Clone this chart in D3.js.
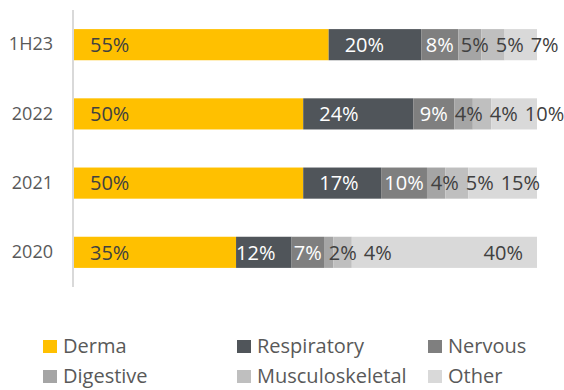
<!DOCTYPE html>
<html>
<head>
<meta charset="utf-8">
<script src="https://cdn.jsdelivr.net/npm/d3@7"></script>
<style>
  body { margin: 0; background: #fff; }
  svg text { font-family: "Open Sans", sans-serif; }
</style>
</head>
<body>
<svg id="chart" width="564" height="390"></svg>
<script>
const periods = ["1H23", "2022", "2021", "2020"];
const series = ["Derma", "Respiratory", "Nervous", "Digestive", "Musculoskeletal", "Other"];
const derma = [55, 50, 50, 35];
const respiratory = [20, 24, 17, 12];
const nervous = [8, 9, 10, 7];
const digestive = [5, 4, 4, 2];
const musculoskeletal = [5, 4, 5, 4];
const other = [7, 10, 15, 40];

const COLORS = ["#FFC000", "#50555A", "#7F7F7F", "#A5A5A5", "#BFBFBF", "#D9D9D9"];
const LABEL_COLORS = ["#404040", "#fff", "#fff", "#404040", "#404040", "#404040"];
// how each series' label sits in its segment
const LABEL_MODE = ["base", "base", "center", "center", "center", "end"];

const rows = periods.map((p, i) => ({
    period: p,
    Derma: derma[i],
    Respiratory: respiratory[i],
    Nervous: nervous[i],
    Digestive: digestive[i],
    Musculoskeletal: musculoskeletal[i],
    Other: other[i]
}));

const stacked = d3.stack().keys(series).offset(d3.stackOffsetExpand)(rows);

const svg = d3.select("#chart");

const y = d3.scaleBand()
    .domain(periods)
    .range([10, 287])
    .paddingInner(0.55)
    .paddingOuter(0.276);

const x = d3.scaleLinear().domain([0, 1]).range([74, 537]);

// bars
const layer = svg.selectAll(".layer")
    .data(stacked)
    .enter().append("g")
    .attr("class", "layer")
    .attr("fill", (d, i) => COLORS[i]);

layer.selectAll("rect")
    .data(d => d)
    .enter().append("rect")
    .attr("x", d => x(d[0]))
    .attr("y", d => y(d.data.period))
    .attr("width", d => x(d[1]) - x(d[0]))
    .attr("height", y.bandwidth());

// axis line
svg.append("line")
    .attr("x1", 73).attr("x2", 73)
    .attr("y1", 10).attr("y2", 287)
    .attr("stroke", "#D9D9D9")
    .attr("stroke-width", 2);

// category labels
const yAxis = d3.axisLeft(y).tickSize(0).tickPadding(20);
const ax = svg.append("g").attr("transform", "translate(73,0)").call(yAxis);
ax.select(".domain").remove();
ax.selectAll("text")
    .attr("font-size", 18)
    .attr("fill", "#595959")
    .style("font-family", "'Open Sans', sans-serif");

// data labels, with a simple push-right to keep them apart
const labelLayer = svg.append("g");
periods.forEach((p, pi) => {
    let prevEnd = -Infinity;
    stacked.forEach((s, si) => {
        const d = s[pi];
        const x0 = x(d[0]), x1 = x(d[1]);
        const t = labelLayer.append("text")
            .attr("y", y(p) + y.bandwidth() / 2)
            .attr("dy", "0.36em")
            .attr("font-size", 20)
            .attr("fill", LABEL_COLORS[si])
            .text(d.data[s.key] + "%");
        const w = t.node().getComputedTextLength();
        let left;
        if (LABEL_MODE[si] === "base") {
            left = (x1 - x0 >= w + 32) ? x0 + 16 : x0;
        } else if (LABEL_MODE[si] === "end") {
            left = x1 - 14 - w;
        } else {
            left = (x0 + x1) / 2 - w / 2;
        }
        if (left < prevEnd + 7) left = prevEnd + 7;
        t.attr("x", left);
        prevEnd = left + w;
    });
});

// legend
const legendCols = [43, 237, 428];
const legendRows = [340, 370];
const legend = svg.selectAll(".legend")
    .data(series)
    .enter().append("g")
    .attr("class", "legend")
    .attr("transform", (d, i) => `translate(${legendCols[i % 3]},${legendRows[Math.floor(i / 3)]})`);

legend.append("rect")
    .attr("width", 14)
    .attr("height", 13)
    .attr("fill", (d, i) => COLORS[i]);

legend.append("text")
    .attr("x", 20)
    .attr("y", 13)
    .attr("font-size", 20)
    .attr("fill", "#595959")
    .text(d => d);
</script>
</body>
</html>
